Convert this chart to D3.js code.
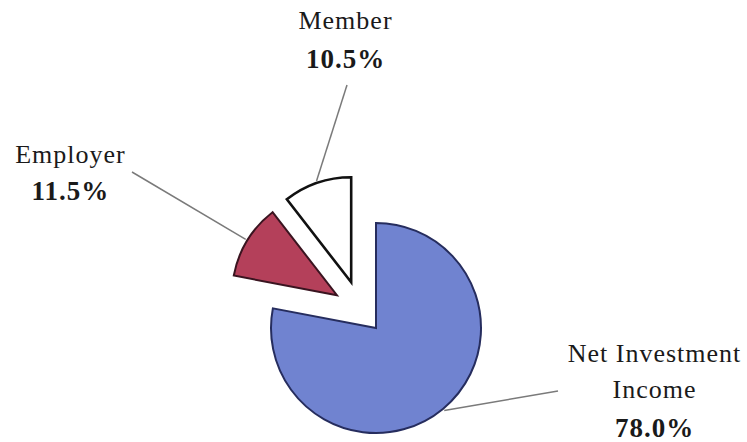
<!DOCTYPE html>
<html>
<head>
<meta charset="utf-8">
<script src="https://cdn.jsdelivr.net/npm/d3@7"></script>
<style>
  html, body { margin: 0; padding: 0; background: #fff; }
  svg { display: block; }
  text { font-family: "Liberation Serif", "DejaVu Serif", serif; fill: #1a1a1a; }
</style>
</head>
<body>
<svg id="chart" width="747" height="442"></svg>
<script>
// Sources of fund additions (share of total)
const categories = ["Net Investment Income", "Employer", "Member"];
const shares = [78.0, 11.5, 10.5];
const valueLabels = ["78.0%", "11.5%", "10.5%"];
const nameLines = [["Net Investment", "Income"], ["Employer"], ["Member"]];

// Styling per slice
const fills = ["#7083d0", "#b4405a", "#ffffff"];
const strokes = ["#262d5e", "#3a1420", "#111111"];
const strokeWidths = [2, 2, 2.6];
// exploded slices: distance (px) and direction (degrees clockwise from 12 o'clock)
const explode = [{ d: 0, a: 0 }, { d: 51, a: 310 }, { d: 52, a: 331.5 }];
// label anchors (centre x, first baseline y) and leader-line end points
const labelPos = [[654, 362], [70, 163], [345, 29]];
const leaderEnd = [[558, 391], [132, 172], [347, 85]];

const svg = d3.select("#chart");
const cx = 376, cy = 328, r = 105;

const pie = d3.pie().sort(null).value(d => d)
  .startAngle(0).endAngle(2 * Math.PI);
const arcs = pie(shares);
const arc = d3.arc().innerRadius(0).outerRadius(r);
const toRad = deg => deg * Math.PI / 180;

const g = svg.append("g").attr("transform", `translate(${cx},${cy})`);

// slices
arcs.forEach((a, i) => {
  const e = explode[i];
  const ox = e.d * Math.sin(toRad(e.a));
  const oy = -e.d * Math.cos(toRad(e.a));
  const sg = g.append("g").attr("transform", `translate(${ox},${oy})`);
  sg.append("path")
    .attr("d", arc(a))
    .attr("fill", fills[i])
    .attr("stroke", strokes[i])
    .attr("stroke-width", strokeWidths[i])
    .attr("stroke-linejoin", "miter");

  // leader line from outer arc at the slice's mid-angle
  const mid = (a.startAngle + a.endAngle) / 2;
  const rr = r + 2;
  const x0 = cx + ox + rr * Math.sin(mid);
  const y0 = cy + oy - rr * Math.cos(mid);
  svg.append("line")
    .attr("x1", x0).attr("y1", y0)
    .attr("x2", leaderEnd[i][0]).attr("y2", leaderEnd[i][1])
    .attr("stroke", "#7a7a7a")
    .attr("stroke-width", 1.5);
});

// labels
const lineGap = [39, 37, 39];
categories.forEach((c, i) => {
  const [lx, ly] = labelPos[i];
  const t = svg.append("g");
  nameLines[i].forEach((ln, k) => {
    t.append("text")
      .attr("x", lx + 0.5).attr("y", ly + k * 36)
      .attr("text-anchor", "middle")
      .attr("font-size", 26)
      .attr("letter-spacing", 1)
      .text(ln);
  });
  t.append("text")
    .attr("x", lx + 0.5).attr("y", ly + (nameLines[i].length - 1) * 36 + lineGap[i])
    .attr("text-anchor", "middle")
    .attr("font-size", 27)
    .attr("font-weight", "bold")
    .attr("letter-spacing", 1)
    .text(valueLabels[i]);
});
</script>
</body>
</html>
